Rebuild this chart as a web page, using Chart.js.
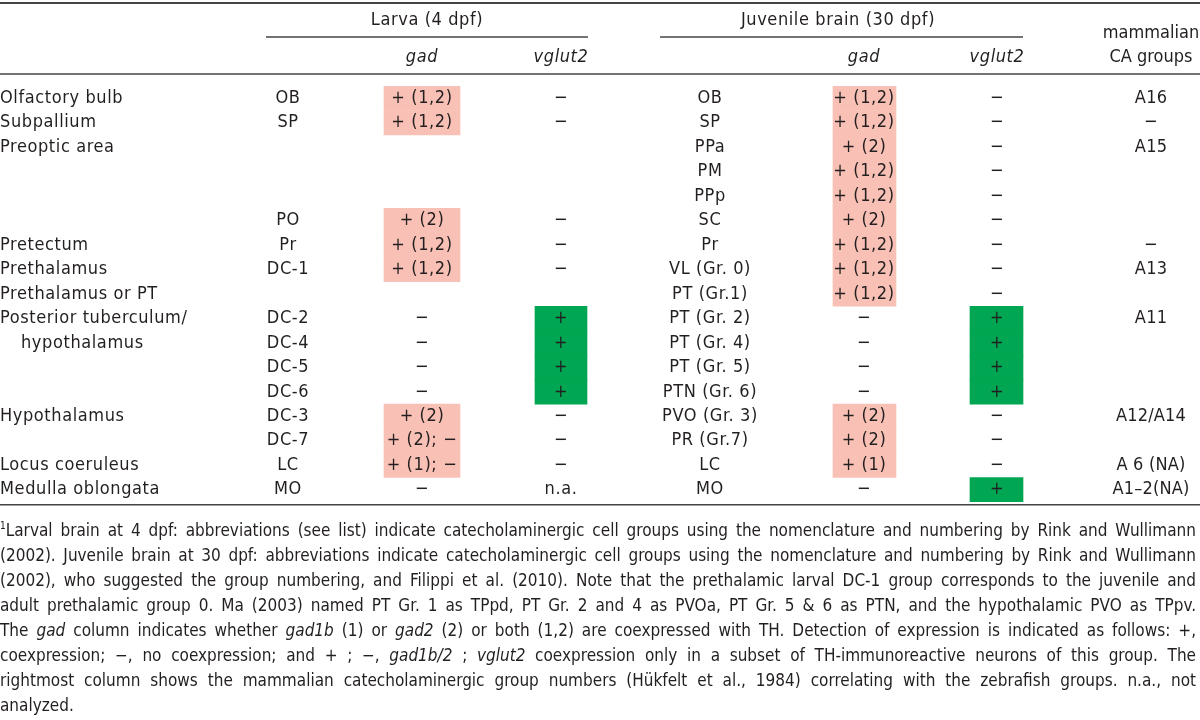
<!DOCTYPE html>
<html>
<head>
<meta charset="utf-8">
<script src="https://cdn.jsdelivr.net/npm/chart.js@4.4.1/dist/chart.umd.min.js"></script>
<style>
  body { margin: 0; background: #fff; }
  #wrap { position: relative; width: 1200px; height: 720px; }
  #table { position: absolute; left: 0; top: 0; }
  #note {
    position: absolute; left: 0; top: 518px; width: 1196px;
    font-family: "DejaVu Sans Condensed", sans-serif;
    font-size: 17px; line-height: 25px; letter-spacing: 0; color: #231f20;
  }
  #note div { text-align: justify; text-align-last: justify; white-space: nowrap; }
  #note div.last { text-align-last: left; }
  #note sup { font-size: 10px; vertical-align: 7px; line-height: 0; }
</style>
</head>
<body>
<div id="wrap">
  <canvas id="table" width="1200" height="720"></canvas>
  <div id="note">
    <div><sup>1</sup>Larval brain at 4 dpf: abbreviations (see list) indicate catecholaminergic cell groups using the nomenclature and numbering by Rink and Wullimann</div>
    <div>(2002). Juvenile brain at 30 dpf: abbreviations indicate catecholaminergic cell groups using the nomenclature and numbering by Rink and Wullimann</div>
    <div>(2002), who suggested the group numbering, and Filippi et al. (2010). Note that the prethalamic larval DC-1 group corresponds to the juvenile and</div>
    <div>adult prethalamic group 0. Ma (2003) named PT Gr. 1 as TPpd, PT Gr. 2 and 4 as PVOa, PT Gr. 5 &amp; 6 as PTN, and the hypothalamic PVO as TPpv.</div>
    <div>The <i>gad</i> column indicates whether <i>gad1b</i> (1) or <i>gad2</i> (2) or both (1,2) are coexpressed with TH. Detection of expression is indicated as follows: +,</div>
    <div>coexpression; −, no coexpression; and + ; −, <i>gad1b/2</i> ; <i>vglut2</i> coexpression only in a subset of TH-immunoreactive neurons of this group. The</div>
    <div>rightmost column shows the mammalian catecholaminergic group numbers (Hükfelt et al., 1984) correlating with the zebrafish groups. n.a., not</div>
    <div class="last">analyzed.</div>
  </div>
</div>
<script>
// table rows, top to bottom
const regions = ['Olfactory bulb','Subpallium','Preoptic area','','','','Pretectum','Prethalamus',
  'Prethalamus or PT','Posterior tuberculum/','hypothalamus','','','Hypothalamus','','Locus coeruleus','Medulla oblongata'];
const larvaGroups = ['OB','SP','','','','PO','Pr','DC-1','','DC-2','DC-4','DC-5','DC-6','DC-3','DC-7','LC','MO'];
const larvaGad = ['+ (1,2)','+ (1,2)','','','','+ (2)','+ (1,2)','+ (1,2)','','−','−','−','−','+ (2)','+ (2); −','+ (1); −','−'];
const larvaVglut2 = ['−','−','','','','−','−','−','','+','+','+','+','−','−','−','n.a.'];
const juvGroups = ['OB','SP','PPa','PM','PPp','SC','Pr','VL (Gr. 0)','PT (Gr.1)','PT (Gr. 2)','PT (Gr. 4)',
  'PT (Gr. 5)','PTN (Gr. 6)','PVO (Gr. 3)','PR (Gr.7)','LC','MO'];
const juvGad = ['+ (1,2)','+ (1,2)','+ (2)','+ (1,2)','+ (1,2)','+ (2)','+ (1,2)','+ (1,2)','+ (1,2)','−','−','−','−','+ (2)','+ (2)','+ (1)','−'];
const juvVglut2 = ['−','−','−','−','−','−','−','−','−','+','+','+','+','−','−','−','+'];
const mammalian = ['A16','−','A15','','','','−','A13','','A11','','','','A12/A14','','A 6 (NA)','A1–2(NA)'];

// column layout in table units (x scale runs 0..1200)
const cols = {
  region:     { x: 0, align: 'left' },
  larvaGrp:   { x: 288 },
  larvaGad:   { x: 422, from: 384, to: 460 },
  larvaVglut: { x: 561, from: 535, to: 587 },
  juvGrp:     { x: 710 },
  juvGad:     { x: 864, from: 833, to: 896 },
  juvVglut:   { x: 997, from: 970, to: 1023 },
  mammal:     { x: 1151 }
};
const PINK = '#f9c1b5';
const GREEN = '#00a651';
const INK = '#231f20';
const FONT = '"DejaVu Sans Condensed", sans-serif';

function cellSpan(values, col) {
  return values.map(v => v.startsWith('+') ? [col.from, col.to] : null);
}

const tableText = {
  id: 'tableText',
  afterDatasetsDraw(chart) {
    const ctx = chart.ctx;
    const xs = chart.scales.x, ys = chart.scales.y;
    const X = v => xs.getPixelForValue(v);
    ctx.save();
    ctx.fillStyle = INK;
    ctx.strokeStyle = '#444';
    ctx.textBaseline = 'middle';

    function txt(s, x, y, align, italic, spacing) {
      ctx.font = (italic ? 'italic ' : '') + '18px ' + FONT;
      ctx.letterSpacing = (spacing === undefined ? 0.6 : spacing) + 'px';
      ctx.textAlign = align || 'center';
      ctx.fillText(s, x, y);
    }
    function rule(x1, x2, y, w) {
      ctx.lineWidth = w;
      ctx.beginPath(); ctx.moveTo(x1, y); ctx.lineTo(x2, y); ctx.stroke();
    }

    // header
    rule(0, 1200, 3, 2);
    txt('Larva (4 dpf)', X(427), 20);
    rule(X(266), X(588), 37, 1.5);
    txt('Juvenile brain (30 dpf)', X(838), 20);
    rule(X(660), X(1023), 37, 1.5);
    txt('mammalian', X(1151), 33, 'center', false, 0);
    txt('CA groups', X(1151), 57, 'center', false, 0);
    txt('gad', X(cols.larvaGad.x), 57, 'center', true);
    txt('vglut2', X(cols.larvaVglut.x), 57, 'center', true);
    txt('gad', X(cols.juvGad.x), 57, 'center', true);
    txt('vglut2', X(cols.juvVglut.x), 57, 'center', true);
    rule(0, 1200, 74, 1.5);

    // body
    const columns = [
      [regions, cols.region], [larvaGroups, cols.larvaGrp], [larvaGad, cols.larvaGad],
      [larvaVglut2, cols.larvaVglut], [juvGroups, cols.juvGrp], [juvGad, cols.juvGad],
      [juvVglut2, cols.juvVglut], [mammalian, cols.mammal]
    ];
    regions.forEach((_, i) => {
      const y = ys.getPixelForValue(i);
      columns.forEach(([vals, col]) => {
        const s = vals[i];
        if (!s) return;
        let x = X(col.x);
        if (col.align === 'left' && s === 'hypothalamus') x += 21;
        txt(s, x, y, col.align || 'center', false, col === cols.mammal ? 0.2 : 0.6);
      });
    });
    rule(0, 1200, ys.getPixelForValue(regions.length - 1) + 15, 1.5);
    ctx.restore();
  }
};

new Chart(document.getElementById('table'), {
  type: 'bar',
  data: {
    labels: juvGroups,
    datasets: [
      { label: 'Larva gad', data: cellSpan(larvaGad, cols.larvaGad), backgroundColor: PINK },
      { label: 'Larva vglut2', data: cellSpan(larvaVglut2, cols.larvaVglut), backgroundColor: GREEN },
      { label: 'Juvenile gad', data: cellSpan(juvGad, cols.juvGad), backgroundColor: PINK },
      { label: 'Juvenile vglut2', data: cellSpan(juvVglut2, cols.juvVglut), backgroundColor: GREEN }
    ]
  },
  options: {
    indexAxis: 'y',
    responsive: false,
    animation: false,
    grouped: false,
    barPercentage: 1,
    categoryPercentage: 1,
    borderWidth: 0,
    layout: { padding: { top: 86, bottom: 218, left: 0, right: 0 } },
    scales: {
      x: { type: 'linear', min: 0, max: 1200, display: false },
      y: { type: 'category', display: false, offset: true }
    },
    plugins: { legend: { display: false }, tooltip: { enabled: false } }
  },
  plugins: [tableText]
});
</script>
</body>
</html>
